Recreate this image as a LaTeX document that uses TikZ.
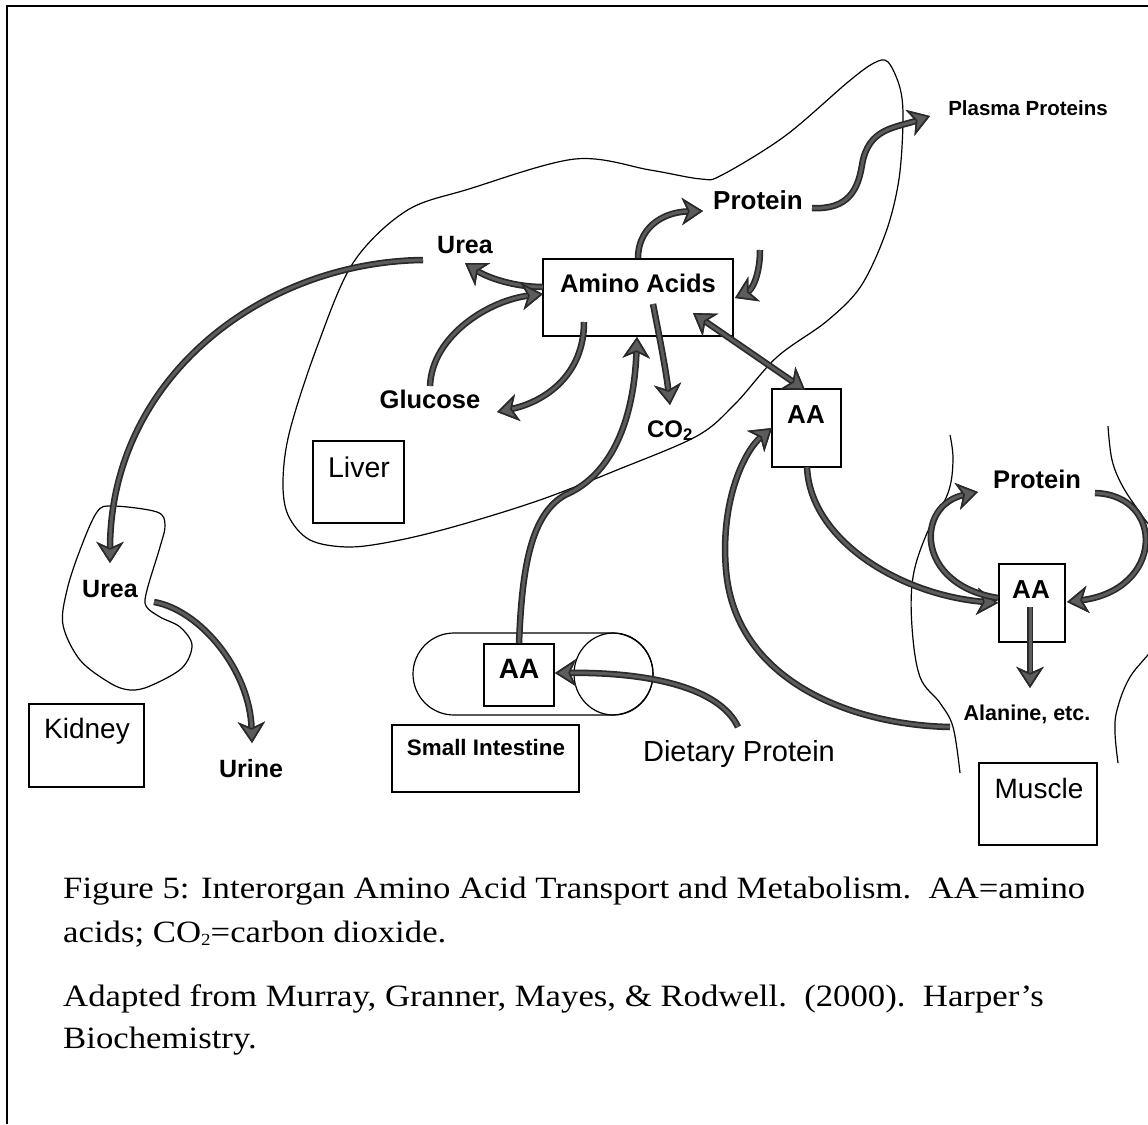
\documentclass[tikz,border=0pt]{standalone}
\usepackage{fontspec}
\setmainfont{Liberation Serif}
\setsansfont{Liberation Sans}
\usetikzlibrary{arrows.meta}
\definecolor{inkedge}{HTML}{2A2A2A}
\definecolor{inkfill}{HTML}{5C5C5C}
\newsavebox\caprow

\tikzset{
  headdark/.tip={Stealth[length=21pt,width=27pt,inset=6pt,color=inkedge]},
  headtone/.tip={Stealth[length=21pt,width=27pt,inset=6pt,color=inkedge,fill=inkfill,line width=1.6pt]},
  flow/.style={line width=3pt, draw=inkfill, -headtone,
    preaction={draw=inkedge, line width=6.5pt, -headdark}},
  flowboth/.style={line width=3pt, draw=inkfill, headtone-headtone,
    preaction={draw=inkedge, line width=6.5pt, headdark-headdark}},
  outline/.style={line width=1.2pt, draw=black},
  heavybox/.style={draw=black, line width=2pt, inner sep=0pt},
  namebox/.style={draw=black, line width=1.3pt, inner sep=0pt},
  bold/.style={font=\sffamily\bfseries\fontsize{#1pt}{#1pt}\selectfont, inner sep=0pt, anchor=base},
  plain/.style={font=\sffamily\fontsize{#1pt}{#1pt}\selectfont, inner sep=0pt, anchor=base},
  caprowstyle/.style={inner sep=0pt, anchor=base west},
}

\begin{document}
% caption width fitting
\sbox\caprow{\fontsize{31pt}{31pt}\selectfont Figure 5: Interorgan Amino Acid Transport and Metabolism.\ \ AA=amino}%
\pgfmathsetmacro\capratio{1022/\wd\caprow}%
\begin{tikzpicture}[x=1pt,y=-1pt]
\useasboundingbox (0,0) rectangle (1148,1124);
\begin{scope}
\clip (0,0) rectangle (1148,1124);

% frame of the figure (left and top edges)
\draw[line width=2pt] (7,1124) -- (7,6) -- (1148,6);

% liver outline
\draw[outline] plot[smooth cycle, tension=0.55] coordinates {
  (888,62) (900,88) (903,120) (899,179) (886,232) (861,286) (827,321)
  (777,357) (735,404) (697,436) (617,470) (540,500) (460,525) (400,540)
  (350,547) (310,540) (288,515) (283,480) (290,430) (317,347) (353,263)
  (406,211) (469,189) (575,159) (650,170) (701,179) (722,175) (785,136)
  (848,82) (874,63)};

% kidney outline
\draw[outline] plot[smooth cycle, tension=0.55] coordinates {
  (97,512) (113,506) (157,512) (165,525) (160,547) (147,590) (146,606)
  (160,617) (180,627) (192,645) (182,668) (150,686) (130,690) (110,683)
  (80,660) (63,625) (67,590) (80,550)};

% small intestine
\draw[outline] [rounded corners=41pt] (413,633) rectangle (653,715);
\draw[outline] (613.5,674) ellipse [x radius=39.5, y radius=41];

% muscle boundaries
\draw[outline] plot[smooth, tension=0.6] coordinates {
  (950,435) (953,460) (948,493) (927,533) (913,577) (912,627) (920,677)
  (940,703) (953,727) (960,773)};
\draw[outline] plot[smooth, tension=0.6] coordinates {
  (1108,426) (1112,460) (1123,487) (1143,517) (1162,545) (1168,595)
  (1158,640) (1130,677) (1117,710) (1115,733) (1118,763)};

% boxes
\node[heavybox, minimum width=190pt, minimum height=77pt] (aacids) at (638,297.5) {};
\node[heavybox, minimum width=69pt, minimum height=78pt] (aaliv) at (806.5,428) {};
\node[heavybox, minimum width=66pt, minimum height=78pt] (aamus) at (1032,603) {};
\node[heavybox, minimum width=70pt, minimum height=62pt] (aasi) at (519,675) {};
\node[namebox, minimum width=91pt, minimum height=82pt] (liverbox) at (358.5,482) {};
\node[namebox, minimum width=115pt, minimum height=83pt] (kidneybox) at (86.5,745.5) {};
\node[namebox, minimum width=118pt, minimum height=82pt] (musclebox) at (1038,804) {};
\node[namebox, minimum width=187pt, minimum height=67pt] (sibox) at (485.5,758.5) {};

% labels
\node[bold=25.5] (aatxt) at (638,292) {Amino Acids};
\node[bold=26] (aalivtxt) at (806,423) {AA};
\node[bold=26] (aamustxt) at (1031,598) {AA};
\node[bold=28] (aasitxt) at (519,678) {AA};
\node[bold=25] (urealiv) at (465,253) {Urea};
\node[bold=26] (protliv) at (758,209) {Protein};
\node[bold=20.5] (plasma) at (1028,115) {Plasma Proteins};
\node[bold=25.5] (glucose) at (430,408) {Glucose};
\node[bold=24] (cotwo) at (670,437) {CO\textsubscript{2}};
\node[bold=25.5] (protmus) at (1037,488) {Protein};
\node[bold=21.5] (alanine) at (1027,720) {Alanine, etc.};
\node[bold=25] (ureakid) at (110,597) {Urea};
\node[bold=25] (urine) at (251,777) {Urine};
\node[bold=22.4] (sitxt) at (486,755) {Small Intestine};
\node[plain=28.5] (livertxt) at (359,477) {Liver};
\node[plain=28] (kidneytxt) at (87,738) {Kidney};
\node[plain=28] (muscletxt) at (1039,798) {Muscle};
\node[plain=29] (dietary) at (739,761) {Dietary Protein};

% connector end points
\coordinate (aaW1) at (543,287);
\coordinate (aaW2) at (543,294);
\coordinate (aaE) at (735,298);
\coordinate (aaS1) at (584,322);
\coordinate (aaS2) at (653,304);
\coordinate (aaSE) at (693,313);
\coordinate (aaB) at (637,337);
\coordinate (protlivW) at (703,211);
\coordinate (protlivS) at (760,250);
\coordinate (protlivE) at (812,208);
\coordinate (plasmaW) at (930,116);
\coordinate (urealivW) at (423,260);
\coordinate (urealivS) at (465,263);
\coordinate (glucoseN) at (430,386);
\coordinate (glucoseE) at (497,412);
\coordinate (cotwoN) at (670,405);
\coordinate (aalivN) at (805,390);
\coordinate (aalivW) at (772,428);
\coordinate (aalivS) at (807,467);
\coordinate (aamusW) at (998,603);
\coordinate (aamusW2) at (998,598);
\coordinate (aamusE) at (1067,602);
\coordinate (aamusC) at (1030,607);
\coordinate (protmusW) at (978,492);
\coordinate (protmusE) at (1095,493);
\coordinate (alanineN) at (1030,688);
\coordinate (alanineW) at (950,727);
\coordinate (aasiE) at (555,673);
\coordinate (dietaryN) at (738,727);
\coordinate (ureakidN) at (110,563);
\coordinate (ureakidE) at (154,602);
\coordinate (urineN) at (252,743);

% liver metabolism
\draw[flow] (aacids.north) .. controls (638,230) and (660,212) .. (protlivW);
\draw[flow] (protlivS) .. controls (760,275) and (752,290) .. (aaE);
\draw[flow] (protlivE) .. controls (848,210) and (858,190) .. (862,165)
  .. controls (868,128) and (895,128) .. (plasmaW);
\draw[flow] (aaW1) .. controls (515,287) and (488,278) .. (urealivS);
\draw[flow] (glucoseN) .. controls (432,335) and (490,300) .. (aaW2);
\draw[flow] (aaS1) .. controls (584,375) and (545,402) .. (glucoseE);
\draw[flow] (aaS2) .. controls (660,340) and (666,370) .. (cotwoN);
\draw[flowboth] (aaSE) -- (aalivN);

% intestine to liver
\draw[flow] (aasi.north) .. controls (522,570) and (530,515) .. (565,495)
  .. controls (612,475) and (634,420) .. (aaB);
\draw[flow] (dietaryN) .. controls (720,688) and (650,672) .. (aasiE);

% muscle exchange
\draw[flow] (alanineW) .. controls (850,725) and (735,680) .. (726,570)
  .. controls (720,500) and (745,450) .. (aalivW);
\draw[flow] (aalivS) .. controls (810,540) and (900,595) .. (aamusW);
\draw[flow] (aamusW2) .. controls (915,585) and (915,505) .. (protmusW);
\draw[flow] (protmusE) .. controls (1165,495) and (1165,590) .. (aamusE);
\draw[flow] (aamusC) -- (alanineN);

% urea to kidney
\draw[flow] (urealivW) .. controls (260,262) and (110,380) .. (ureakidN);
\draw[flow] (ureakidE) .. controls (200,610) and (250,670) .. (urineN);
\end{scope}

% caption
\node[caprowstyle] (cap1) at (63,898) {\scalebox{\capratio}[1]{\usebox\caprow}};
\node[caprowstyle] (cap2) at (63,942) {\scalebox{\capratio}[1]{\fontsize{31pt}{31pt}\selectfont acids; CO{\fontsize{17pt}{17pt}\selectfont\raisebox{-3pt}{2}}=carbon dioxide.}};
\node[caprowstyle] (cap3) at (63,1006) {\scalebox{\capratio}[1]{\fontsize{31pt}{31pt}\selectfont Adapted from Murray, Granner, Mayes, \& Rodwell.\ \ (2000).\ \ Harper’s}};
\node[caprowstyle] (cap4) at (63,1048) {\scalebox{\capratio}[1]{\fontsize{31pt}{31pt}\selectfont Biochemistry.}};
\end{tikzpicture}
\end{document}
